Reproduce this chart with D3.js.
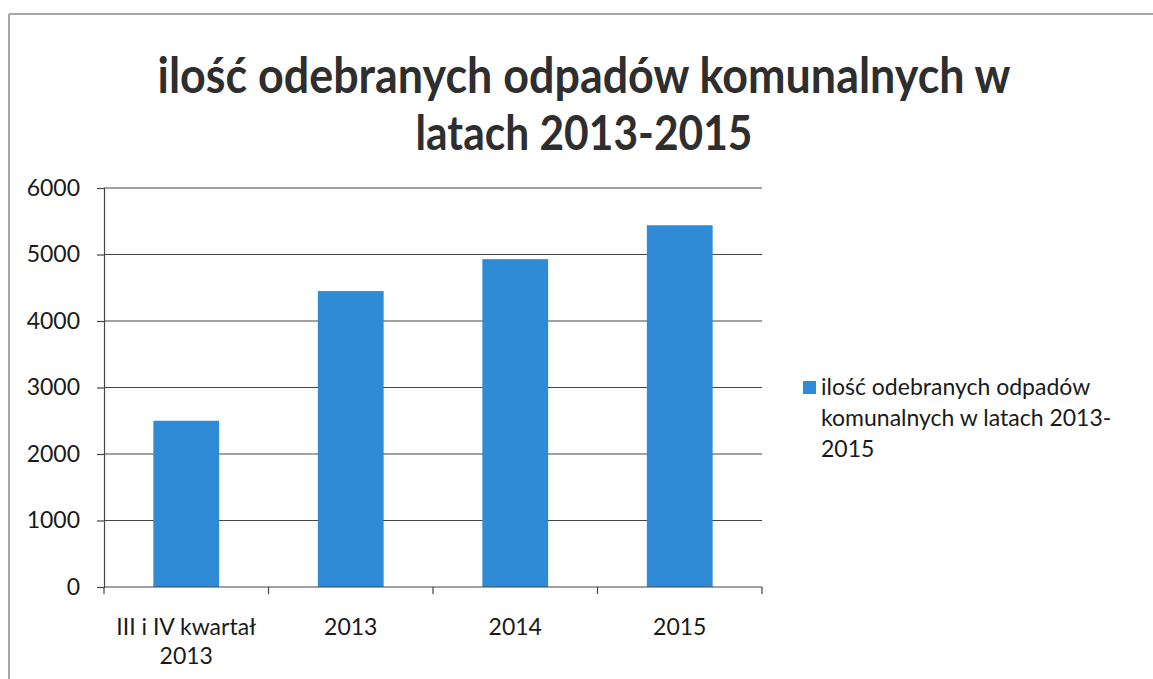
<!DOCTYPE html>
<html>
<head>
<meta charset="utf-8">
<script src="https://cdn.jsdelivr.net/npm/d3@7"></script>
<style>
	body { margin: 0; background: #fff; }
	text { font-family: Lato, "Open Sans", sans-serif; fill: #1a1a1a; }
</style>
</head>
<body>
<div id="chart"></div>
<script>
const categories = [["III i IV kwartał", "2013"], ["2013"], ["2014"], ["2015"]];
const values = [2500, 4450, 4930, 5440];
const yTicks = [0, 1000, 2000, 3000, 4000, 5000, 6000];
const titleLines = ["ilość odebranych odpadów komunalnych w", "latach 2013-2015"];
const legendLines = ["ilość odebranych odpadów", "komunalnych w latach 2013-", "2015"];

const width = 1153, height = 679;
const plot = {left: 104, right: 762, top: 188, bottom: 587};
const barColor = "#2f8bd6";
const gridColor = "#444";
const fontSize = 23;

const svg = d3.select("#chart").append("svg")
	.attr("width", width)
	.attr("height", height);

// frame of the scanned chart area
svg.append("line").attr("x1", 9).attr("x2", width).attr("y1", 14).attr("y2", 14)
	.style("stroke", "#888").style("stroke-width", 1.5);
svg.append("line").attr("x1", 9).attr("x2", 9).attr("y1", 14).attr("y2", height)
	.style("stroke", "#888").style("stroke-width", 1.5);

// title, sized to the width seen in the picture
const titleWidths = [853, 337];
const titleY = [93, 150];
titleLines.forEach((t, i) => {
	let node = svg.append("text")
		.attr("text-anchor", "middle")
		.attr("transform", "translate(584," + titleY[i] + ") scale(1,1.12)")
		.style("font-weight", "bold")
		.style("font-size", "44px")
		.style("fill", "#2e2e2e")
		.text(t);
	let w = node.node().getComputedTextLength();
	node.style("font-size", (44 * titleWidths[i] / w) + "px");
});

let x = d3.scaleBand()
	.domain(categories.map((c, i) => i))
	.range([plot.left, plot.right])
	.paddingInner(0.6)
	.paddingOuter(0.3);

let y = d3.scaleLinear().domain([0, 6000]).range([plot.bottom, plot.top]);

let g = svg.append("g");

g.selectAll("line.grid")
	.data(yTicks.filter(d => d > 0))
	.enter().append("line")
	.attr("class", "grid")
	.attr("x1", plot.left)
	.attr("x2", plot.right)
	.attr("y1", d => y(d))
	.attr("y2", d => y(d))
	.style("stroke", gridColor)
	.style("stroke-width", 1.2);

g.selectAll("rect.bar")
	.data(values)
	.enter().append("rect")
	.attr("class", "bar")
	.attr("x", (d, i) => x(i))
	.attr("width", x.bandwidth())
	.attr("y", d => y(d))
	.attr("height", d => y(0) - y(d))
	.style("fill", barColor);

let yAxis = d3.axisLeft(y).tickValues(yTicks).tickSize(7).tickPadding(17).tickFormat(d3.format("d"));
let ya = g.append("g")
	.attr("transform", "translate(" + plot.left + ",0)")
	.call(yAxis);
ya.select(".domain").style("stroke", gridColor).style("stroke-width", 1.2);
ya.selectAll("line").style("stroke", gridColor).style("stroke-width", 1.2);
ya.selectAll("text").style("font-size", fontSize + "px").style("fill", "#1a1a1a").style("font-family", "Lato, sans-serif");

// x axis: category boundary ticks
let edges = d3.range(categories.length + 1).map(i => plot.left + i * (plot.right - plot.left) / categories.length);
g.append("line")
	.attr("x1", plot.left).attr("x2", plot.right)
	.attr("y1", y(0)).attr("y2", y(0))
	.style("stroke", gridColor).style("stroke-width", 1.2);
g.selectAll("line.xtick")
	.data(edges)
	.enter().append("line")
	.attr("class", "xtick")
	.attr("x1", d => d).attr("x2", d => d)
	.attr("y1", y(0)).attr("y2", y(0) + 7)
	.style("stroke", gridColor).style("stroke-width", 1.2);

let labels = g.selectAll("text.xlabel")
	.data(categories)
	.enter().append("text")
	.attr("class", "xlabel")
	.attr("text-anchor", "middle")
	.style("font-size", fontSize + "px");
labels.each(function(d, i) {
	let cx = x(i) + x.bandwidth() / 2;
	d.forEach((line, j) => {
		d3.select(this).append("tspan")
			.attr("x", cx)
			.attr("y", 635 + j * 29)
			.text(line);
	});
});

// legend
svg.append("rect")
	.attr("x", 803).attr("y", 381)
	.attr("width", 13).attr("height", 13)
	.style("fill", barColor);
legendLines.forEach((t, i) => {
	svg.append("text")
		.attr("x", 821)
		.attr("y", 395 + i * 31)
		.style("font-size", fontSize + "px")
		.text(t);
});
</script>
</body>
</html>
